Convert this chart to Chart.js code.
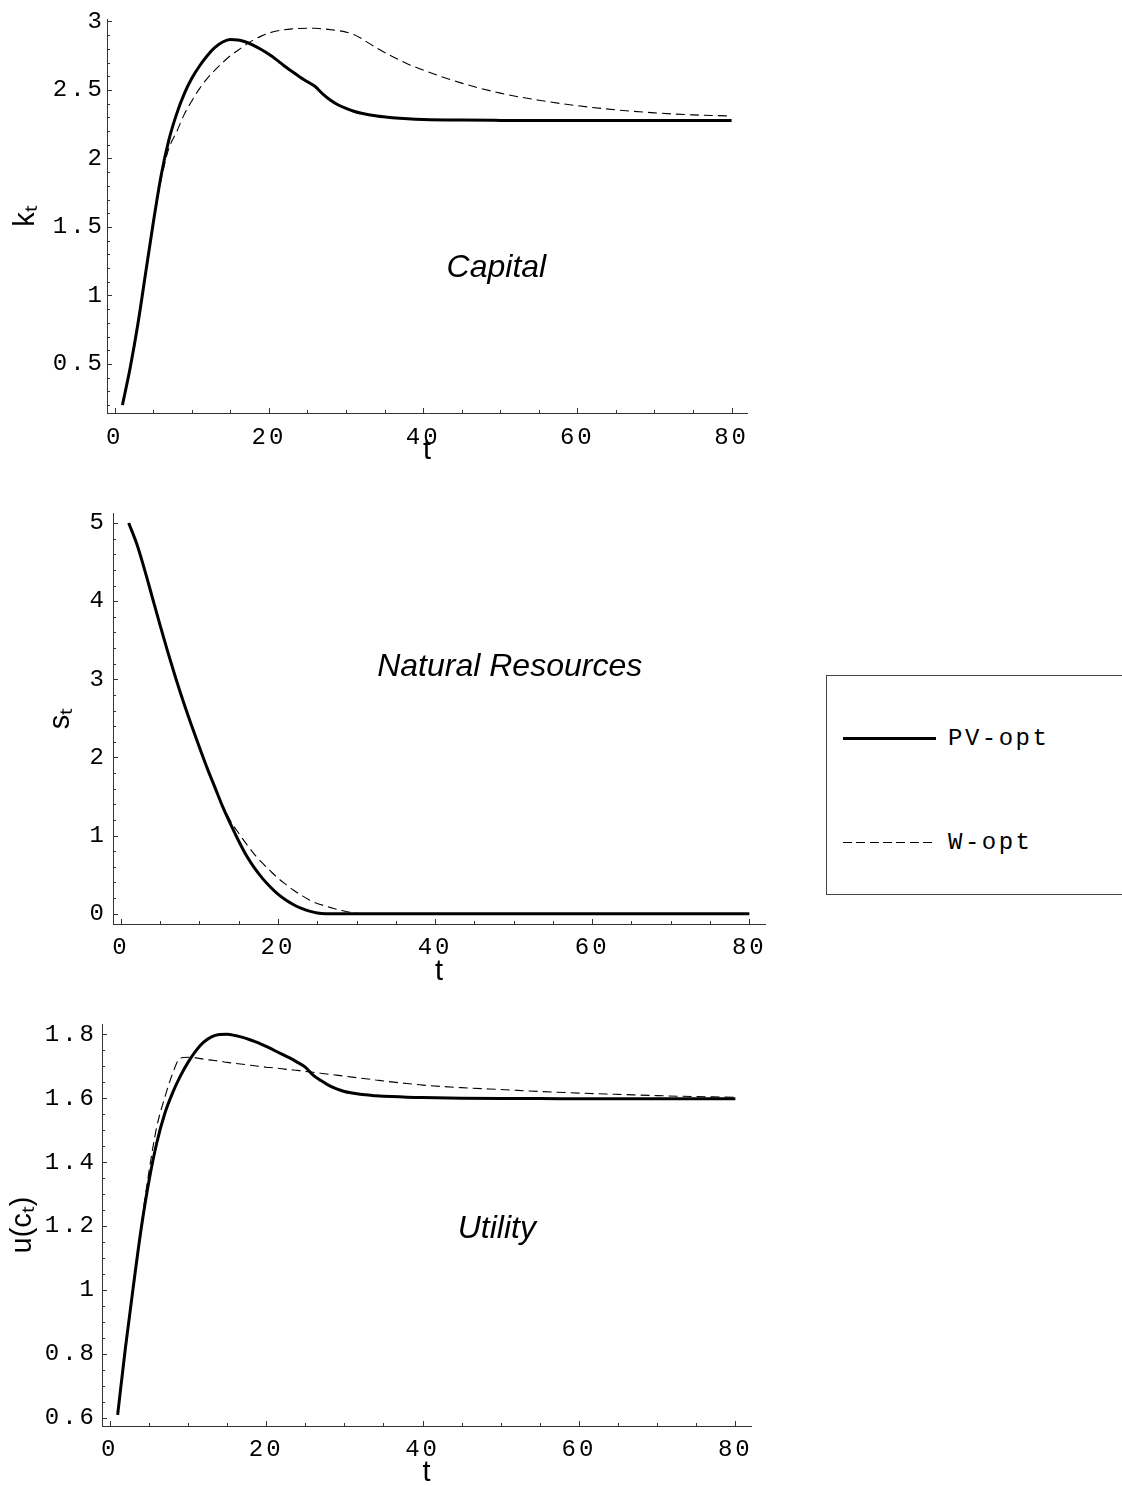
<!DOCTYPE html>
<html><head><meta charset="utf-8">
<script src="https://cdn.jsdelivr.net/npm/chart.js@4.4.1/dist/chart.umd.min.js"></script>
<style>
html,body{margin:0;padding:0;background:#fff;}
body{width:1122px;height:1486px;overflow:hidden;position:relative;}
canvas{position:absolute;left:0;}
#legend{position:absolute;left:826px;top:675px;width:320px;height:220px;border:1px solid #444;box-sizing:border-box;background:#fff;}
#legend .ln{position:absolute;left:16px;width:93px;}
#legend .solid{top:61px;height:2.5px;background:#000;}
#legend .dash{top:166px;height:1px;background:repeating-linear-gradient(to right,#000 0 9px,transparent 9px 13.3px);}
#legend .lab{position:absolute;left:121px;font-family:"Liberation Mono",monospace;font-size:24px;line-height:24px;letter-spacing:2.5px;color:#000;white-space:nowrap;}
</style>
</head><body>
<canvas id="c1" width="800" height="480" style="top:0px"></canvas>
<canvas id="c2" width="800" height="520" style="top:480px"></canvas>
<canvas id="c3" width="800" height="500" style="top:1000px"></canvas>
<div id="legend">
  <div class="ln solid"></div><span class="lab" style="top:51px">PV-opt</span>
  <div class="ln dash"></div><span class="lab" style="top:155px">W-opt</span>
</div>
<script>
// ---------- data ----------
const tGrid = [1,2,3,4,5,6,7,8,9,10,11,12,13,14,15,16,17,18,19,20,21,22,23,24,25,26,27,28,29,30,31,32,34,36,38,40,45,50,55,60,65,70,75,80];

const kPV = [0.20,0.47,0.79,1.16,1.53,1.87,2.13,2.32,2.47,2.585,2.675,2.75,2.81,2.85,2.868,2.865,2.85,2.825,2.795,2.76,2.72,2.675,2.635,2.595,2.56,2.525,2.47,2.425,2.39,2.365,2.345,2.33,2.31,2.298,2.29,2.285,2.28,2.278,2.277,2.277,2.277,2.277,2.277,2.277];
const kW  = [0.20,0.47,0.79,1.16,1.52,1.84,2.07,2.19,2.32,2.42,2.51,2.585,2.645,2.70,2.75,2.79,2.83,2.866,2.893,2.915,2.93,2.94,2.946,2.949,2.95,2.95,2.946,2.94,2.933,2.922,2.905,2.875,2.805,2.745,2.69,2.645,2.55,2.477,2.425,2.385,2.355,2.333,2.318,2.31];

const sPV = [5.0,4.74,4.41,4.05,3.69,3.34,3.01,2.70,2.41,2.13,1.86,1.61,1.36,1.14,0.93,0.74,0.585,0.455,0.345,0.25,0.175,0.115,0.068,0.033,0.01,0,0,0,0,0,0,0,0,0,0,0,0,0,0,0,0,0,0,0];
const sW  = [5.0,4.74,4.41,4.05,3.69,3.34,3.01,2.70,2.41,2.13,1.86,1.61,1.375,1.18,1.03,0.89,0.76,0.65,0.55,0.455,0.375,0.30,0.235,0.175,0.13,0.10,0.07,0.045,0.022,0.005,0,0,0,0,0,0,0,0,0,0,0,0,0,0];

const uPV = [0.61,0.82,1.01,1.19,1.34,1.46,1.55,1.615,1.668,1.712,1.748,1.775,1.792,1.799,1.80,1.796,1.79,1.782,1.773,1.762,1.75,1.738,1.726,1.712,1.697,1.672,1.655,1.640,1.629,1.621,1.616,1.612,1.608,1.605,1.603,1.602,1.600,1.599,1.599,1.598,1.598,1.598,1.598,1.598];
const uW  = [0.61,0.82,1.01,1.20,1.37,1.51,1.60,1.675,1.725,1.728,1.726,1.722,1.719,1.716,1.712,1.709,1.706,1.703,1.700,1.697,1.695,1.692,1.689,1.687,1.684,1.681,1.678,1.675,1.672,1.669,1.666,1.663,1.657,1.651,1.646,1.641,1.633,1.627,1.621,1.616,1.612,1.608,1.605,1.603];

const xTicks = [0,20,40,60,80];
const xTickLabels = ["0","20","40","60","80"];
const kTicks = [0.5,1,1.5,2,2.5,3];
const kTickLabels = ["0.5","1","1.5","2","2.5","3"];
const sTicks = [0,1,2,3,4,5];
const sTickLabels = ["0","1","2","3","4","5"];
const uTicks = [0.6,0.8,1,1.2,1.4,1.6,1.8];
const uTickLabels = ["0.6","0.8","1","1.2","1.4","1.6","1.8"];

const seriesNames = ["PV-opt","W-opt"];
const panelTitles = ["Capital","Natural Resources","Utility"];

// ---------- plugins ----------
function setLS(ctx, v){ try { ctx.letterSpacing = v; } catch(e){} }
const spacing = {
  id:'spacing',
  beforeDraw(chart){
    const ctx = chart.ctx;
    Object.values(chart.scales).forEach(s => {
      if (!s._titlePatched) {
        const orig = s.drawTitle;
        s.drawTitle = function(){ const prev = ctx.letterSpacing; setLS(ctx,'0px'); orig.apply(this, arguments); setLS(ctx, prev || '0px'); };
        s._titlePatched = true;
      }
    });
    setLS(ctx, '3px');
  },
  beforeDatasetsDraw(chart){ setLS(chart.ctx, '0px'); }
};
const tickMarks = {
  id:'tickMarks',
  afterDraw(chart, args, o){
    const ctx = chart.ctx, xs = chart.scales.x, ys = chart.scales.y;
    const a = chart.chartArea;
    ctx.save();
    ctx.strokeStyle = '#333'; ctx.lineWidth = 1;
    ctx.beginPath();
    for (let v = 0; v <= 80 + 1e-9; v += o.xMinor) {
      if (v < xs.min || v > xs.max) continue;
      const major = Math.abs(v/o.xMajor - Math.round(v/o.xMajor)) < 1e-6;
      const px = Math.round(xs.getPixelForValue(v)) + 0.5;
      ctx.moveTo(px, a.bottom); ctx.lineTo(px, a.bottom - (major ? 5 : 3));
    }
    const start = Math.ceil(ys.min / o.yMinor - 1e-6) * o.yMinor;
    for (let v = start; v <= ys.max + 1e-9; v += o.yMinor) {
      const major = Math.abs(v/o.yMajor - Math.round(v/o.yMajor)) < 1e-6;
      const py = Math.round(ys.getPixelForValue(v)) + 0.5;
      ctx.moveTo(a.left, py); ctx.lineTo(a.left + (major ? 5 : 3), py);
    }
    ctx.stroke();
    ctx.restore();
  }
};
const panelLabel = {
  id:'panelLabel',
  afterDraw(chart, args, o){
    const ctx = chart.ctx;
    ctx.save();
    setLS(ctx, '0px');
    ctx.font = 'italic 32px "Liberation Sans", Arial, sans-serif';
    ctx.fillStyle = '#000'; ctx.textAlign = 'center'; ctx.textBaseline = 'middle';
    ctx.fillText(o.text, chart.scales.x.getPixelForValue(o.x), chart.scales.y.getPixelForValue(o.y));
    ctx.restore();
  }
};

function makeChart(id, H, area, yVals, yTicksArr, yLabels, pvData, wData, yTitle, pads, labelPos, minor){
  const ctx = document.getElementById(id);
  return new Chart(ctx, {
    type:'line',
    data:{ datasets:[
      {label:seriesNames[0], data:tGrid.map((t,i)=>({x:t,y:pvData[i]})), borderColor:'#000', borderWidth:3, pointRadius:0, fill:false, cubicInterpolationMode:'monotone'},
      {label:seriesNames[1], data:tGrid.map((t,i)=>({x:t,y:wData[i]})), borderColor:'#000', borderWidth:1.1, borderDash:[9,5], pointRadius:0, fill:false, cubicInterpolationMode:'monotone'}
    ]},
    options:{
      responsive:false, animation:false, devicePixelRatio:1,
      layout:{autoPadding:false, padding:{left:0, top:area.top, right:800-area.right, bottom:0}},
      plugins:{legend:{display:false}, tooltip:{enabled:false},
        tickMarks:minor, panelLabel:labelPos},
      scales:{
        x:{type:'linear', min:-1, max:82,
          afterBuildTicks:s=>{s.ticks = xTicks.map(v=>({value:v}));},
          afterFit:s=>{s.height = H - area.bottom;},
          grid:{display:false, drawTicks:false},
          border:{display:true, color:'#333', width:1},
          ticks:{padding:pads.xtp, autoSkip:false, maxRotation:0, color:'#000',
            font:{family:'"Liberation Mono", "Courier New", monospace', size:24},
            callback:(v,i)=>xTickLabels[i]},
          title:{display:true, text:'t', color:'#000', font:{family:'"Liberation Sans", Arial, sans-serif', size:29}, padding:{top:0,bottom:pads.x}}
        },
        y:{type:'linear', min:yVals[0], max:yVals[1],
          afterBuildTicks:s=>{s.ticks = yTicksArr.map(v=>({value:v}));},
          afterFit:s=>{s.width = area.left;},
          grid:{display:false, drawTicks:false},
          border:{display:true, color:'#333', width:1},
          ticks:{padding:pads.ytp, autoSkip:false, color:'#000',
            font:{family:'"Liberation Mono", "Courier New", monospace', size:24},
            callback:(v,i)=>yLabels[i]},
          title:{display:true, text:yTitle, color:'#000', font:{family:'"Liberation Sans", Arial, sans-serif', size:29}, padding:{top:pads.y,bottom:0}}
        }
      }
    },
    plugins:[spacing, tickMarks, panelLabel]
  });
}

makeChart('c1', 480, {left:107, right:747, top:19, bottom:413}, [0.142,3.018], kTicks, kTickLabels, kPV, kW, 'kₜ',
  {x:11.6, y:9, xtp:10, ytp:2}, {text:panelTitles[0], x:49.5, y:1.2}, {xMinor:5, xMajor:20, yMinor:0.1, yMajor:0.5});
makeChart('c2', 520, {left:113, right:765, top:33, bottom:444}, [-0.132,5.128], sTicks, sTickLabels, sPV, sW, 'sₜ',
  {x:10.6, y:44, xtp:9, ytp:6}, {text:panelTitles[1], x:49.5, y:3.15}, {xMinor:5, xMajor:20, yMinor:0.2, yMajor:1});
makeChart('c3', 500, {left:102, right:751, top:24, bottom:426}, [0.575,1.832], uTicks, uTickLabels, uPV, uW, 'u(cₜ)',
  {x:9.6, y:6, xtp:9, ytp:5}, {text:panelTitles[2], x:49.5, y:1.19}, {xMinor:5, xMajor:20, yMinor:0.05, yMajor:0.2});
</script>
</body></html>
